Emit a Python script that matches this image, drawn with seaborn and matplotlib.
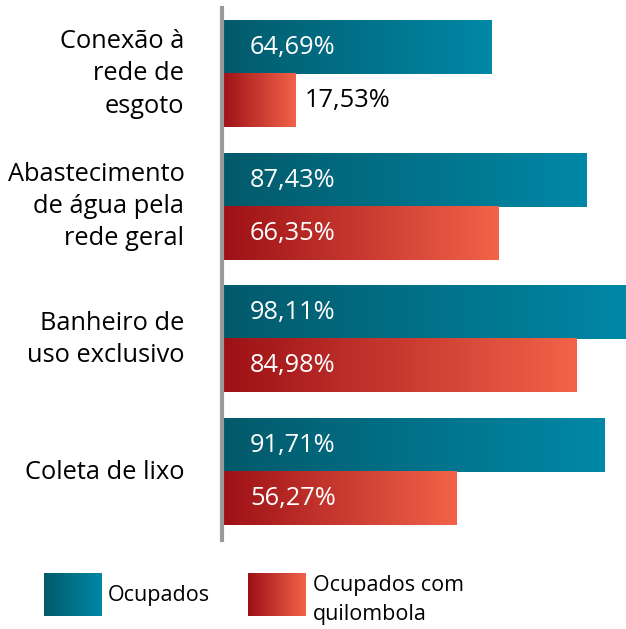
import numpy as np
import pandas as pd
import matplotlib.pyplot as plt
import seaborn as sns
from matplotlib.colors import LinearSegmentedColormap

categorias = ['Conexão à\nrede de\nesgoto',
              'Abastecimento\nde água pela\nrede geral',
              'Banheiro de\nuso exclusivo',
              'Coleta de lixo']
ocupados = [64.69, 87.43, 98.11, 91.71]
quilombola = [17.53, 66.35, 84.98, 56.27]
series = ['Ocupados', 'Ocupados com\nquilombola']

df = pd.DataFrame({
    'categoria': categorias * 2,
    'valor': ocupados + quilombola,
    'serie': [series[0]] * 4 + [series[1]] * 4,
})

sns.set_style('white')
plt.rcParams['font.family'] = ['Open Sans', 'DejaVu Sans']

# gradientes escuro -> claro em cada barra
cmaps = [LinearSegmentedColormap.from_list('teal', ['#035a6a', '#0088a7']),
         LinearSegmentedColormap.from_list('verm', ['#9d1016', '#f26349'])]
grad = np.linspace(0, 1, 256).reshape(1, -1)

fig = plt.figure(figsize=(6.26, 6.29), dpi=100)
ax = fig.add_axes([0.3546, 0.1415, 0.6454, 0.8458])
sns.barplot(data=df, y='categoria', x='valor', hue='serie', orient='h',
            palette=['#02708a', '#d0392c'], saturation=1, width=0.8,
            legend=False, ax=ax)

fs = 18.3
for cont, cmap in zip(ax.containers, cmaps):
    for bar in cont:
        x0, y0 = bar.get_x(), bar.get_y()
        w, h = bar.get_width(), bar.get_height()
        bar.set_alpha(0)
        ax.imshow(grad, extent=[x0, x0 + w, y0 + h, y0], aspect='auto',
                  cmap=cmap, zorder=2)
        txt = f'{w:.2f}%'.replace('.', ',')
        if w < 30:
            ax.text(w + 2.4, y0 + h / 2, txt, color='black', va='center',
                    fontsize=fs, zorder=3)
        else:
            ax.text(6.7, y0 + h / 2, txt, color='white', va='center',
                    fontsize=fs, zorder=3)

ax.set_xlim(0, 96.9)
ax.set_ylim(3.512, -0.497)
ax.set_xticks([])
ax.set_xlabel('')
ax.set_ylabel('')
for s in ['top', 'right', 'bottom']:
    ax.spines[s].set_visible(False)
ax.spines['left'].set_color('#9a9a9a')
ax.spines['left'].set_linewidth(3)
ax.tick_params(axis='y', length=0, pad=27, labelsize=fs, labelcolor='black')
for lbl in ax.get_yticklabels():
    lbl.set_linespacing(1.38)
    lbl.set_verticalalignment('center')

# legenda manual com gradiente
for left, cmap in zip([44 / 626, 248 / 626], cmaps):
    lax = fig.add_axes([left, 13 / 629, 58 / 626, 43 / 629])
    lax.imshow(grad, aspect='auto', cmap=cmap)
    lax.axis('off')
fig.text(108 / 626, 1 - 595 / 629, series[0], va='center', fontsize=15.5,
         color='black')
fig.text(313 / 626, 1 - 600 / 629, series[1], va='center', fontsize=15.5,
         color='black', linespacing=1.55)

fig.savefig('out.png', dpi=100)
